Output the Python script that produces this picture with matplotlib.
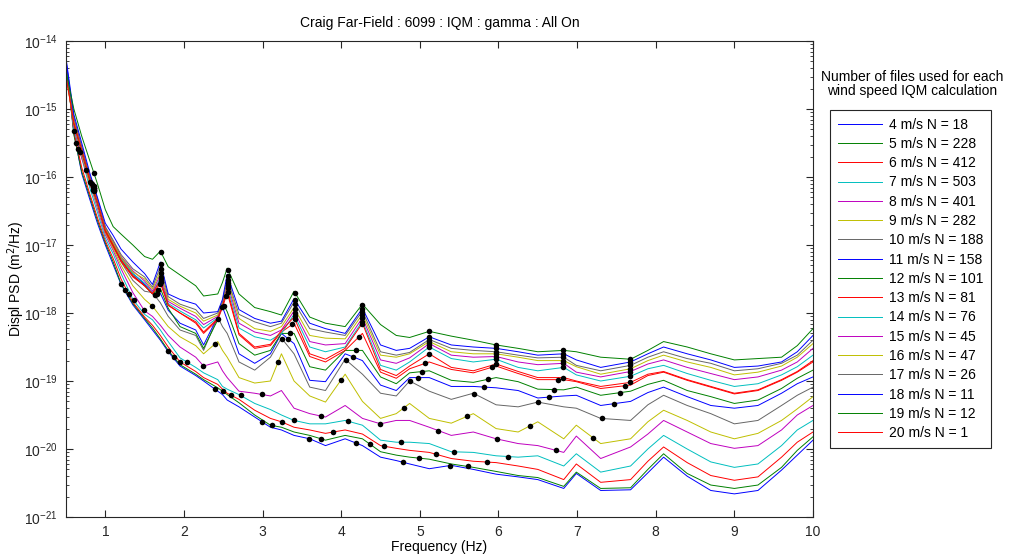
import numpy as np
import matplotlib.pyplot as plt

plt.rcParams['font.family'] = ['Liberation Sans', 'DejaVu Sans']

# frequency knots (Hz) shared by every wind-speed spectrum
FREQ = [0.5, 0.6, 0.7, 0.8, 0.9, 1.0, 1.1, 1.2, 1.35, 1.5,
        1.6, 1.7, 1.8, 1.95, 2.15, 2.25, 2.43, 2.49, 2.55, 2.7,
        2.9, 3.1, 3.24, 3.4, 3.6, 3.8, 4.05, 4.27, 4.5, 4.7,
        4.87, 5.12, 5.4, 5.68, 5.97, 6.25, 6.5, 6.83, 6.99, 7.3,
        7.68, 7.9, 8.1, 8.4, 8.7, 9.0, 9.3, 9.6, 9.8, 10.0]

# log10 of displacement PSD (m^2/Hz) per wind speed
log_psd_04 = [-14.30, -15.35, -15.95, -16.32, -16.68, -17.00, -17.29, -17.58, -17.88, -18.10,
              -18.25, -18.40, -18.57, -18.78, -18.92, -19.00, -19.15, -19.20, -19.28, -19.38,
              -19.53, -19.68, -19.72, -19.80, -19.85, -19.95, -19.85, -19.95, -20.12, -20.17,
              -20.22, -20.29, -20.24, -20.30, -20.37, -20.41, -20.45, -20.58, -20.36, -20.61,
              -20.60, -20.35, -20.12, -20.40, -20.61, -20.66, -20.61, -20.31, -20.09, -19.87]
log_psd_05 = [-14.32, -15.38, -15.92, -16.28, -16.64, -16.97, -17.25, -17.57, -17.86, -18.08,
              -18.22, -18.38, -18.55, -18.76, -18.90, -18.98, -19.10, -19.15, -19.20, -19.32,
              -19.50, -19.65, -19.68, -19.75, -19.80, -19.87, -19.80, -19.85, -20.04, -20.09,
              -20.12, -20.15, -20.22, -20.27, -20.33, -20.39, -20.42, -20.55, -20.34, -20.58,
              -20.57, -20.30, -20.07, -20.36, -20.53, -20.58, -20.53, -20.27, -20.02, -19.82]
log_psd_06 = [-14.35, -15.33, -15.86, -16.24, -16.60, -16.94, -17.20, -17.50, -17.84, -18.06,
              -18.18, -18.33, -18.50, -18.72, -18.86, -18.95, -19.05, -19.12, -19.18, -19.27,
              -19.43, -19.55, -19.60, -19.68, -19.72, -19.77, -19.72, -19.78, -19.95, -19.99,
              -20.02, -20.05, -20.14, -20.18, -20.20, -20.25, -20.30, -20.45, -20.22, -20.49,
              -20.45, -20.18, -19.97, -20.20, -20.39, -20.46, -20.41, -20.12, -19.90, -19.75]
log_psd_07 = [-14.40, -15.30, -15.72, -16.15, -16.52, -16.90, -17.13, -17.42, -17.80, -18.02,
              -18.10, -18.25, -18.42, -18.66, -18.80, -18.88, -18.98, -19.08, -19.12, -19.20,
              -19.33, -19.42, -19.50, -19.58, -19.63, -19.63, -19.58, -19.65, -19.87, -19.90,
              -19.90, -19.92, -20.04, -20.05, -20.10, -20.12, -20.10, -20.25, -20.07, -20.34,
              -20.25, -20.00, -19.80, -20.00, -20.19, -20.27, -20.22, -19.95, -19.72, -19.58]
log_psd_08 = [-14.38, -15.25, -15.72, -16.08, -16.46, -16.85, -17.08, -17.35, -17.70, -17.97,
              -18.05, -18.18, -18.33, -18.50, -18.65, -18.78, -18.72, -18.85, -18.95, -19.15,
              -19.18, -19.22, -19.14, -19.40, -19.48, -19.53, -19.36, -19.55, -19.63, -19.58,
              -19.58, -19.68, -19.80, -19.75, -19.85, -19.92, -19.95, -20.05, -19.81, -20.14,
              -19.97, -19.78, -19.58, -19.75, -19.92, -19.99, -19.95, -19.72, -19.50, -19.36]
log_psd_09 = [-14.42, -15.22, -15.68, -16.08, -16.42, -16.82, -17.05, -17.30, -17.60, -17.80,
              -17.90, -18.05, -18.20, -18.35, -18.48, -18.60, -18.42, -18.55, -18.65, -18.95,
              -19.03, -19.00, -18.60, -19.00, -19.22, -19.31, -18.90, -19.30, -19.55, -19.48,
              -19.33, -19.55, -19.62, -19.48, -19.70, -19.75, -19.60, -19.85, -19.65, -19.92,
              -19.85, -19.60, -19.43, -19.58, -19.75, -19.85, -19.77, -19.58, -19.41, -19.23]
log_psd_10 = [-14.45, -15.20, -15.65, -16.05, -16.40, -16.80, -17.02, -17.25, -17.52, -17.68,
              -17.70, -17.85, -18.05, -18.25, -18.33, -18.55, -18.06, -18.20, -18.30, -18.72,
              -18.84, -18.65, -18.37, -18.60, -19.09, -19.14, -18.68, -18.90, -19.18, -19.22,
              -19.00, -19.15, -19.27, -19.18, -19.35, -19.38, -19.31, -19.38, -19.40, -19.55,
              -19.58, -19.35, -19.21, -19.36, -19.48, -19.63, -19.58, -19.36, -19.21, -19.09]
log_psd_11 = [-14.28, -15.15, -15.60, -16.00, -16.35, -16.75, -16.97, -17.18, -17.42, -17.58,
              -17.72, -17.71, -17.96, -18.15, -18.25, -18.47, -18.05, -17.91, -18.10, -18.60,
              -18.74, -18.60, -18.30, -18.45, -18.99, -19.01, -18.60, -18.70, -19.06, -19.14,
              -18.95, -18.95, -19.08, -19.08, -19.10, -19.14, -19.25, -19.22, -19.21, -19.36,
              -19.30, -19.17, -19.09, -19.23, -19.36, -19.40, -19.36, -19.18, -19.04, -18.94]
log_psd_12 = [-14.40, -15.20, -15.62, -16.02, -16.37, -16.78, -17.00, -17.22, -17.45, -17.60,
              -17.72, -17.64, -17.93, -18.20, -18.30, -18.52, -18.10, -17.85, -17.98, -18.45,
              -18.62, -18.55, -18.30, -18.30, -18.79, -18.84, -18.55, -18.55, -18.94, -19.04,
              -18.88, -18.85, -18.99, -19.02, -18.95, -19.01, -19.12, -19.13, -19.09, -19.21,
              -19.15, -19.05, -18.99, -19.14, -19.23, -19.33, -19.28, -19.11, -18.96, -18.84]
log_psd_13 = [-14.50, -15.22, -15.62, -16.03, -16.38, -16.80, -17.02, -17.24, -17.47, -17.60,
              -17.72, -17.56, -17.89, -18.00, -18.15, -18.30, -18.10, -17.92, -17.70, -18.32,
              -18.52, -18.48, -18.28, -18.15, -18.64, -18.72, -18.55, -18.30, -18.87, -18.96,
              -18.82, -18.72, -18.83, -18.88, -18.78, -18.89, -18.98, -18.98, -19.01, -19.11,
              -19.06, -18.92, -18.87, -18.99, -19.09, -19.19, -19.14, -18.99, -18.87, -18.72]
log_psd_14 = [-14.45, -15.18, -15.60, -16.00, -16.36, -16.77, -16.98, -17.20, -17.42, -17.56,
              -17.70, -17.49, -17.86, -17.97, -18.10, -18.22, -18.07, -17.90, -17.60, -18.22,
              -18.35, -18.40, -18.30, -18.02, -18.50, -18.57, -18.50, -18.12, -18.77, -18.84,
              -18.72, -18.50, -18.67, -18.72, -18.68, -18.80, -18.85, -18.80, -18.91, -19.00,
              -18.93, -18.82, -18.77, -18.89, -18.99, -19.08, -19.04, -18.91, -18.79, -18.62]
log_psd_15 = [-14.50, -15.15, -15.57, -15.98, -16.33, -16.74, -16.95, -17.17, -17.38, -17.53,
              -17.68, -17.44, -17.83, -17.93, -18.05, -18.17, -18.05, -17.88, -17.55, -18.15,
              -18.28, -18.33, -18.25, -17.97, -18.42, -18.47, -18.45, -18.07, -18.69, -18.74,
              -18.66, -18.45, -18.62, -18.65, -18.64, -18.72, -18.76, -18.74, -18.87, -18.94,
              -18.86, -18.75, -18.69, -18.80, -18.89, -18.98, -18.94, -18.84, -18.72, -18.52]
log_psd_16 = [-14.55, -15.17, -15.58, -16.00, -16.35, -16.76, -16.97, -17.18, -17.40, -17.50,
              -17.65, -17.39, -17.80, -17.90, -18.00, -18.12, -18.03, -17.86, -17.52, -18.08,
              -18.23, -18.27, -18.20, -17.92, -18.33, -18.37, -18.38, -18.02, -18.62, -18.65,
              -18.60, -18.42, -18.57, -18.60, -18.60, -18.65, -18.70, -18.70, -18.79, -18.90,
              -18.82, -18.70, -18.62, -18.72, -18.80, -18.91, -18.87, -18.78, -18.65, -18.45]
log_psd_17 = [-14.50, -15.12, -15.55, -15.97, -16.32, -16.73, -16.93, -17.14, -17.35, -17.47,
              -17.62, -17.32, -17.76, -17.87, -17.95, -18.08, -18.00, -17.84, -17.48, -18.02,
              -18.13, -18.20, -18.15, -17.84, -18.23, -18.28, -18.33, -17.97, -18.57, -18.62,
              -18.58, -18.39, -18.52, -18.55, -18.57, -18.62, -18.66, -18.65, -18.77, -18.85,
              -18.77, -18.65, -18.57, -18.67, -18.74, -18.85, -18.82, -18.74, -18.62, -18.40]
log_psd_18 = [-14.25, -15.08, -15.50, -15.93, -16.30, -16.68, -16.86, -17.06, -17.25, -17.42,
              -17.58, -17.25, -17.72, -17.80, -17.87, -18.00, -17.98, -17.80, -17.43, -17.95,
              -18.08, -18.15, -18.12, -17.79, -18.15, -18.23, -18.30, -17.93, -18.47, -18.55,
              -18.52, -18.35, -18.47, -18.50, -18.52, -18.57, -18.62, -18.60, -18.69, -18.80,
              -18.72, -18.60, -18.50, -18.60, -18.69, -18.80, -18.78, -18.72, -18.57, -18.33]
log_psd_19 = [-14.45, -15.00, -15.40, -15.75, -16.10, -16.48, -16.73, -16.84, -17.00, -17.17,
              -17.21, -17.09, -17.32, -17.44, -17.60, -17.75, -17.72, -17.55, -17.34, -17.72,
              -17.92, -17.98, -18.03, -17.68, -18.06, -18.15, -18.20, -17.87, -18.17, -18.33,
              -18.36, -18.27, -18.34, -18.40, -18.47, -18.52, -18.57, -18.55, -18.57, -18.65,
              -18.68, -18.55, -18.42, -18.50, -18.60, -18.69, -18.67, -18.65, -18.48, -18.23]
log_psd_20 = [-14.52, -15.20, -15.60, -16.02, -16.37, -16.78, -17.00, -17.22, -17.45, -17.60,
              -17.71, -17.52, -17.88, -18.00, -18.13, -18.28, -18.08, -17.90, -17.65, -18.30,
              -18.50, -18.46, -18.26, -18.06, -18.60, -18.68, -18.52, -18.15, -18.83, -18.92,
              -18.78, -18.60, -18.80, -18.85, -18.75, -18.86, -18.95, -18.95, -19.00, -19.08,
              -19.02, -18.90, -18.86, -18.98, -19.08, -19.18, -19.13, -18.98, -18.86, -18.70]

WIND_SPEEDS = [4, 5, 6, 7, 8, 9, 10, 11, 12, 13, 14, 15, 16, 17, 18, 19, 20]
FILE_COUNTS = [18, 228, 412, 503, 401, 282, 188, 158, 101, 81, 76, 45, 47, 26, 11, 12, 1]
# rotor speed (1P, Hz) for each wind speed; harmonics are marked on each curve
ROTOR_FREQ = [0.598, 0.623, 0.65, 0.68, 0.748, 0.80, 0.813, 0.83, 0.838, 0.845,
              0.853, 0.853, 0.853, 0.853, 0.853, 0.853, 0.853]
N_HARMONICS = 9

SPECTRA = [log_psd_04, log_psd_05, log_psd_06, log_psd_07, log_psd_08, log_psd_09,
           log_psd_10, log_psd_11, log_psd_12, log_psd_13, log_psd_14, log_psd_15,
           log_psd_16, log_psd_17, log_psd_18, log_psd_19, log_psd_20]

# matlab-style line colour cycle
COLOURS = ['#0000ff', '#008000', '#ff0000', '#00bfbf', '#bf00bf', '#bfbf00', '#666666']


def main():
    fig = plt.figure(figsize=(10.13, 5.55), dpi=100)
    ax = fig.add_axes([66 / 1013, 38 / 555, 747 / 1013, 476 / 555])

    freq = np.array(FREQ)
    lines = []
    for i, (ws, n, spec) in enumerate(zip(WIND_SPEEDS, FILE_COUNTS, SPECTRA)):
        line, = ax.plot(freq, 10 ** np.array(spec), color=COLOURS[i % len(COLOURS)],
                        lw=0.7, label=f'{ws} m/s N = {n}')
        lines.append(line)

    # rotor harmonic markers on every curve
    for f0, spec in zip(ROTOR_FREQ, SPECTRA):
        harm = f0 * np.arange(1, N_HARMONICS + 1)
        harm = harm[(harm >= FREQ[0]) & (harm <= FREQ[-1])]
        vals = 10 ** np.interp(harm, freq, spec)
        ax.plot(harm, vals, 'o', color='k', ms=4, mew=0, zorder=5)

    ax.set_yscale('log')
    ax.set_xlim(0.5, 10)
    ax.set_ylim(1e-21, 1e-14)
    ax.set_xticks(range(1, 11))
    ax.tick_params(which='both', direction='in', top=True, right=True,
                   labelsize=10, colors='#262626')
    ax.tick_params(which='major', length=5, pad=6)
    ax.tick_params(which='minor', length=2.5)
    for sp in ax.spines.values():
        sp.set_color('#262626')
        sp.set_linewidth(0.8)

    ax.set_title('Craig Far-Field : 6099 : IQM : gamma : All On', fontsize=10, pad=10)
    ax.set_xlabel('Frequency (Hz)', fontsize=10)
    ax.xaxis.set_label_coords(0.5, -0.049)
    ax.set_ylabel('Displ PSD (m$^2$/Hz)', fontsize=10)
    ax.yaxis.set_label_coords(-0.052, 0.5)

    fig.text(912 / 1013, 1 - 84 / 555,
             'Number of files used for each\nwind speed IQM calculation',
             ha='center', va='center', fontsize=10, linespacing=1.05)
    leg = ax.legend(handles=lines, loc='upper left',
                    bbox_to_anchor=(830 / 1013, 1 - 110 / 555),
                    bbox_transform=fig.transFigure, fontsize=10,
                    handlelength=3.2, handletextpad=0.5, labelspacing=0.38,
                    borderpad=0.55, borderaxespad=0, fancybox=False,
                    framealpha=1, edgecolor='#262626')
    leg.get_frame().set_linewidth(0.8)

    fig.savefig('out.png', dpi=100)


if __name__ == '__main__':
    main()
